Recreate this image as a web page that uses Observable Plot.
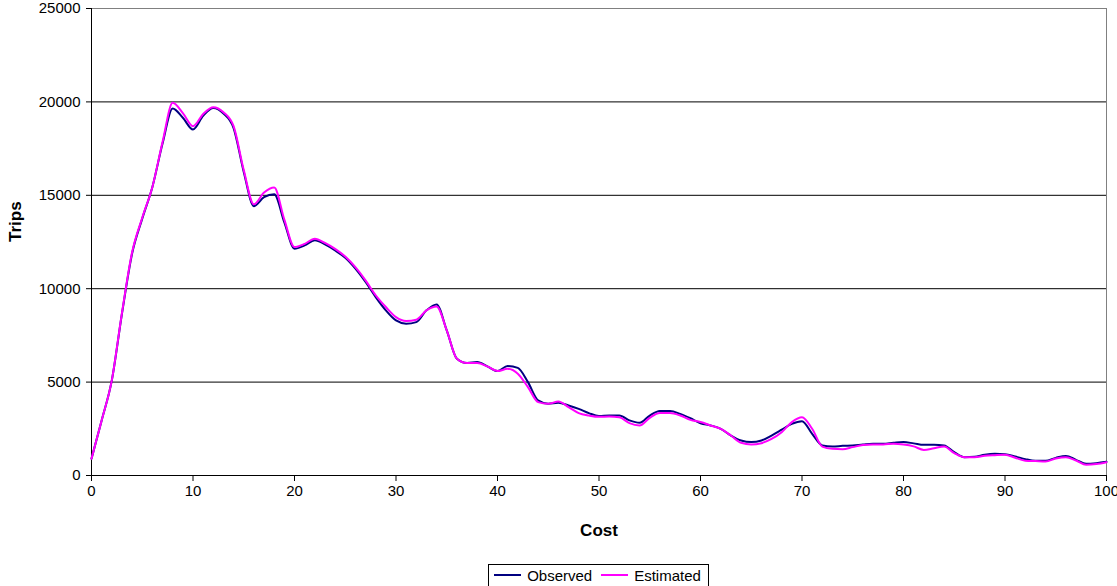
<!DOCTYPE html>
<html>
<head>
<meta charset="utf-8">
<script src="https://cdn.jsdelivr.net/npm/d3@7"></script>
<script src="https://cdn.jsdelivr.net/npm/@observablehq/plot@0.6"></script>
<style>
  body { margin: 0; background: #fff; font-family: "Liberation Sans", Arial, sans-serif; }
  #chart svg { overflow: visible; }
  #legendWrap { padding-left: 91px; padding-right: 11px; text-align: center; margin-top: 14px; }
  #legend { display: inline-flex; align-items: center; border: 1px solid #000; height: 21px; padding: 0 7px 0 5px; font-size: 15px; color: #000; }
  .item { display: inline-flex; align-items: center; margin-right: 9px; }
  .item:last-child { margin-right: 0; }
  .swatch { display: inline-block; width: 27px; height: 0; border-top: 2px solid; margin-right: 6px; }
</style>
</head>
<body>
<div id="chart"></div>
<div id="legendWrap"><div id="legend"></div></div>
<script>
const cost = d3.range(0, 101);
const observed = [900, 2950, 5090, 8660, 11880, 13750, 15450, 17770, 19650, 19150,
  18520, 19250, 19680, 19380, 18600, 16250, 14420, 14900, 15060, 13550,
  12140, 12320, 12590, 12375, 12050, 11650, 11070, 10360, 9550, 8840,
  8300, 8125, 8210, 8840, 9160, 7770, 6250, 6020, 6070, 5840,
  5590, 5860, 5760, 5000, 4020, 3840, 3890, 3750, 3570, 3340,
  3180, 3210, 3210, 2950, 2820, 3210, 3450, 3450, 3300, 3070,
  2800, 2680, 2500, 2140, 1875, 1790, 1875, 2140, 2450, 2770,
  2910, 2230, 1610, 1550, 1590, 1610, 1660, 1700, 1700, 1750,
  1790, 1720, 1640, 1640, 1610, 1250, 980, 1000, 1110, 1160,
  1140, 1020, 875, 785, 785, 945, 1050, 840, 625, 660, 730];
const estimated = [900, 2950, 5090, 8700, 11950, 13800, 15450, 17850, 19950, 19400,
  18700, 19350, 19720, 19450, 18700, 16350, 14520, 15150, 15420, 13700,
  12230, 12400, 12680, 12450, 12130, 11720, 11150, 10450, 9650, 9020,
  8480, 8270, 8340, 8840, 9050, 7770, 6250, 6020, 6020, 5840,
  5590, 5710, 5450, 4730, 3930, 3840, 3960, 3660, 3340, 3210,
  3140, 3160, 3120, 2800, 2680, 3090, 3340, 3340, 3210, 2980,
  2860, 2680, 2500, 2140, 1750, 1660, 1730, 1960, 2320, 2860,
  3120, 2500, 1550, 1430, 1410, 1520, 1630, 1660, 1660, 1700,
  1660, 1560, 1370, 1460, 1550, 1200, 980, 980, 1060, 1090,
  1110, 950, 790, 770, 750, 910, 980, 800, 570, 610, 710];
const seriesNames = ["Observed", "Estimated"];
const seriesColors = ["#000080", "#FF00FF"];
const xTicks = d3.range(0, 101, 10);
const yTicks = d3.range(0, 25001, 5000);

const rows = [];
cost.forEach((c, i) => {
  rows.push({cost: c, trips: observed[i], series: seriesNames[0]});
});
cost.forEach((c, i) => {
  rows.push({cost: c, trips: estimated[i], series: seriesNames[1]});
});

const plot = Plot.plot({
  width: 1117,
  height: 548,
  marginLeft: 91,
  marginRight: 11,
  marginTop: 8,
  marginBottom: 73,
  style: { fontFamily: "'Liberation Sans', Arial, sans-serif", fontSize: "15px", color: "#000", background: "#fff" },
  x: { domain: [0, 100], ticks: xTicks, label: null },
  y: { domain: [0, 25000], ticks: yTicks, label: null },
  color: { domain: seriesNames, range: seriesColors },
  marks: [
    Plot.ruleY(yTicks.filter(d => d > 0 && d < 25000), { stroke: "#000", strokeWidth: 1 }),
    Plot.frame({ stroke: "#808080", strokeWidth: 1 }),
    Plot.axisX({ ticks: xTicks, tickSize: 6, tickPadding: 4, fontSize: 15, label: null, tickFormat: "d" }),
    Plot.axisY({ ticks: yTicks, tickSize: 5, tickPadding: 6, fontSize: 15, label: null, tickFormat: "d" }),
    Plot.ruleX([0], { stroke: "#000" }),
    Plot.ruleY([0], { stroke: "#000" }),
    Plot.line(rows, { x: "cost", y: "trips", z: "series", stroke: "series", strokeWidth: 2, curve: "monotone-x" }),
    Plot.text(["Cost"], { frameAnchor: "bottom", dy: 55, text: d => d, fontWeight: "bold", fontSize: 17, lineAnchor: "middle" }),
    Plot.text(["Trips"], { frameAnchor: "left", dx: -76, text: d => d, rotate: -90, fontWeight: "bold", fontSize: 17, lineAnchor: "middle" })
  ]
});
document.getElementById("chart").appendChild(plot);

const legend = document.getElementById("legend");
seriesNames.forEach((name, i) => {
  const item = document.createElement("span");
  item.className = "item";
  const sw = document.createElement("span");
  sw.className = "swatch";
  sw.style.borderTopColor = seriesColors[i];
  item.appendChild(sw);
  item.appendChild(document.createTextNode(name));
  legend.appendChild(item);
});
</script>
</body>
</html>
